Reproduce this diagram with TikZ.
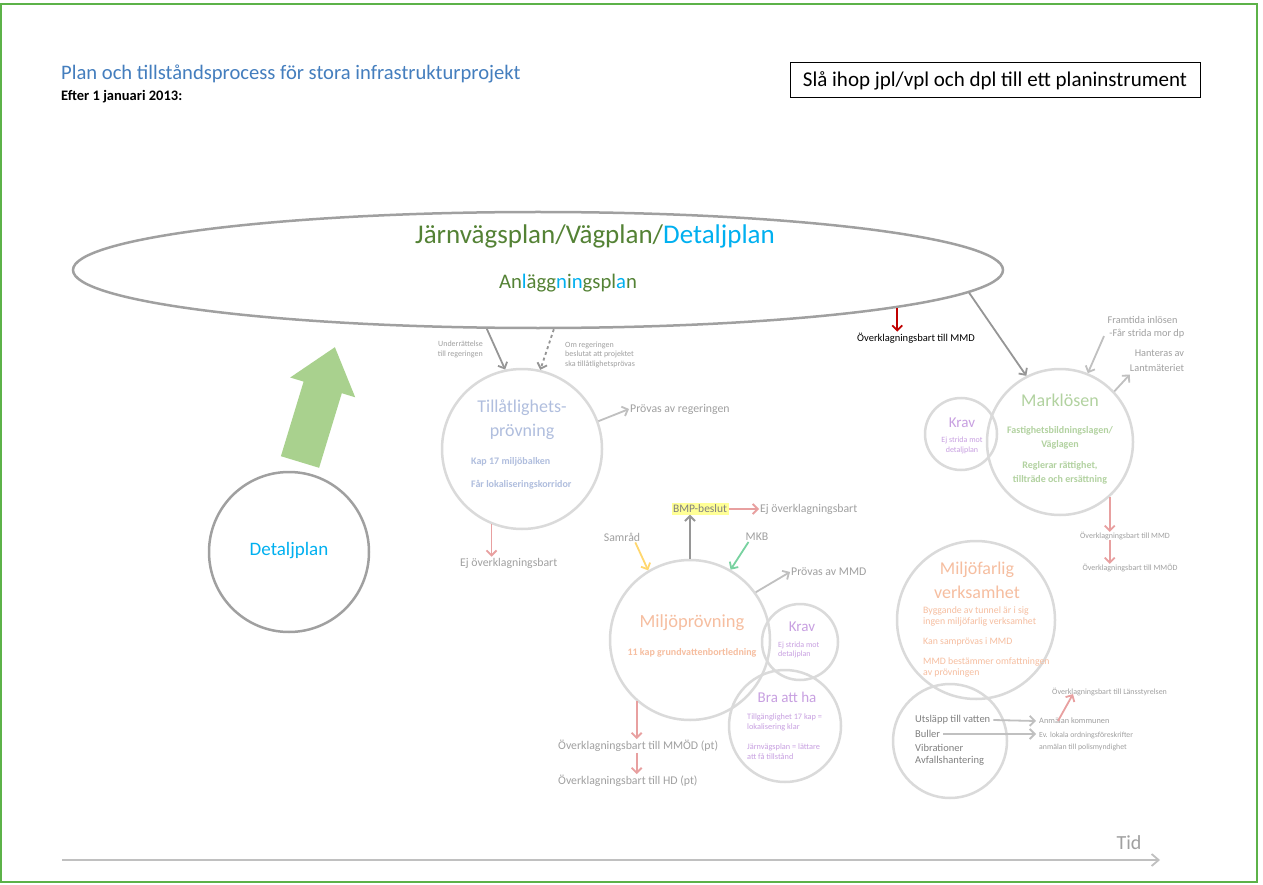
\documentclass[tikz,border=0pt]{standalone}
\usepackage{fontspec}
\setmainfont{Carlito}
\usetikzlibrary{arrows.meta,shapes.geometric}

\newcommand\fsz[2]{\fontsize{#1}{#2}\selectfont}

\definecolor{framegreen}{RGB}{92,178,72}
\definecolor{titleblue}{RGB}{68,126,190}
\definecolor{plangreen}{RGB}{84,130,53}
\definecolor{plancyan}{RGB}{0,176,240}
\definecolor{ringgray}{RGB}{160,160,160}
\definecolor{lightring}{RGB}{218,218,218}
\definecolor{arrowgray}{RGB}{192,192,192}
\definecolor{darkgray}{RGB}{150,150,150}
\definecolor{textgray}{RGB}{160,160,160}
\definecolor{midgray}{RGB}{128,128,128}
\definecolor{pinkred}{RGB}{232,160,160}
\definecolor{darkred}{RGB}{192,0,0}
\definecolor{blockgreen}{RGB}{169,209,142}
\definecolor{paleblue}{RGB}{176,190,222}
\definecolor{peach}{RGB}{246,190,160}
\definecolor{palegreen}{RGB}{178,210,160}
\definecolor{lilac}{RGB}{200,160,225}
\definecolor{hilite}{RGB}{255,255,150}
\definecolor{samgul}{RGB}{255,215,110}
\definecolor{mkbgreen}{RGB}{120,210,160}

\tikzset{
  ring/.style={circle, draw=lightring, line width=2.5, inner sep=0, minimum size=#1},
  darkring/.style={circle, draw=ringgray, line width=2.5, inner sep=0, minimum size=#1},
  tip/.style={-{Straight Barb[length=5,width=10]}},
  grayarrow/.style={tip, draw=arrowgray, line width=1.8},
  planarrow/.style={tip, draw=darkgray, line width=1.8},
  redarrow/.style={tip, draw=pinkred, line width=1.8},
  tiny/.style={font=\fsz{8}{9.5}, text=textgray, inner sep=0},
  small/.style={font=\fsz{11.8}{14}, text=textgray, inner sep=1},
}

\begin{document}
\begin{tikzpicture}[x=1pt,y=-1pt]
\useasboundingbox (0,0) rectangle (1263,885);
\fill[white] (0,0) rectangle (1263,885);
\draw[framegreen, line width=2] (1,4) rectangle (1257,882);

% heading
\node[anchor=west, text=titleblue, font=\fsz{20.6}{24}, inner sep=0] (title) at (61,74)
  {Plan och tillståndsprocess för stora infrastrukturprojekt};
\node[anchor=west, font=\bfseries\fsz{14.5}{17}, inner sep=0] (date) at (61,97)
  {Efter 1 januari 2013:};
\node[draw, line width=1, minimum width=410, minimum height=35, font=\fsz{21}{24}] (merge) at (995,80.5)
  {Slå ihop jpl/vpl och dpl till ett planinstrument};

% the common plan
\node[ellipse, draw=ringgray, line width=2.5, minimum width=930, minimum height=116, inner sep=0] (plan) at (538,270) {};
\node[text=plangreen, font=\fsz{27}{30}, inner sep=0] (planname) at (595,236)
  {Järnvägsplan/Vägplan/\textcolor{plancyan}{Detaljplan}};
\node[text=plangreen, font=\fsz{20.7}{24}, inner sep=0] (anl) at (568,283)
  {An\textcolor{plancyan}{l}ägg\textcolor{plancyan}{n}i\textcolor{plancyan}{n}gspl\textcolor{plancyan}{a}n};

\node[font=\fsz{10.5}{12}, inner sep=1] (mmd0) at (916,338) {Överklagningsbart till MMD};
\draw[tip, draw=darkred, line width=1.8] (plan.-6.4) -- (mmd0.north -| plan.-6.4);

% detaljplan and the big arrow
\node[darkring=160] (dp) at (289,552) {};
\node[text=plancyan, font=\fsz{19}{22}] (dptext) at (289,551) {Detaljplan};
\fill[blockgreen] (280.9,456.2) -- (303.6,381.6) -- (290.2,377.5) -- (334.9,347.2)
  -- (355.2,397.3) -- (341.8,393.2) -- (319.1,467.8) -- cycle;

% tillåtlighetsprövning
\node[ring=160] (tp) at (522,449) {};
\node[text=paleblue, font=\fsz{18}{24}, align=center] (tptitle) at (522,420) {Tillåtlighets-\\prövning};
\node[text=paleblue, font=\bfseries\fsz{10}{12}, anchor=west, inner sep=0] (tp1) at (471,462) {Kap 17 miljöbalken};
\node[text=paleblue, font=\bfseries\fsz{10}{12}, anchor=west, inner sep=0] (tp2) at (471,485) {Får lokaliseringskorridor};
\node[tiny, align=right, anchor=east] (underr) at (483,349.5) {Underrättelse\\till regeringen};
\node[tiny, align=left, anchor=west] (omreg) at (565,354.5) {Om regeringen\\beslutat att projektet\\ska tillåtlighetsprövas};
\draw[planarrow] (plan.-131.5) -- (tp.102);
\draw[planarrow, dashed] (plan.-75.5) -- (tp.77);
\node[small, anchor=west] (provreg) at (629,409) {Prövas av regeringen};
\draw[grayarrow] (tp.20) -- (provreg.west);
\node[small, anchor=west] (ejtp) at (459,563) {Ej överklagningsbart};
\draw[redarrow] (tp.-112) -- (tp.-112 |- ejtp.north);

% miljöprövning
\node[ring=160] (mp) at (690,640) {};
\node[text=peach, font=\fsz{18.5}{22}] (mptitle) at (692,623) {Miljöprövning};
\node[text=peach, font=\bfseries\fsz{10}{12}] (mp1) at (692,653) {11 kap grundvattenbortledning};
\node[fill=hilite, font=\fsz{11.5}{13}, text=midgray, inner sep=1.5] (bmp) at (700,509) {BMP-beslut};
\draw[draw=darkgray, tip, line width=1.8] (mp.north) -- (mp.north |- bmp.south);
\node[small, anchor=west] (ejbmp) at (759,509) {Ej överklagningsbart};
\draw[redarrow] (bmp.east) -- (ejbmp.west);
\node[small] (samrad) at (622,537) {Samråd};
\draw[tip, draw=samgul, line width=1.8] ([xshift=-6]samrad.south east) -- (mp.121);
\node[small] (mkb) at (757,537) {MKB};
\draw[tip, draw=mkbgreen, line width=1.8] ([xshift=4]mkb.south west) -- (mp.60);
\node[small, anchor=west] (provmmd) at (790,572) {Prövas av MMD};
\draw[grayarrow] (mp.36) -- (provmmd.west);

\node[ring=76] (krav1) at (800,642) {};
\node[text=lilac, font=\fsz{15}{17}] (krav1t) at (802,627) {Krav};
\node[tiny, text=lilac, align=left, anchor=west] (krav1s) at (778,650) {Ej strida mot\\detaljplan};

\node[ring=112] (bra) at (785,726) {};
\node[text=lilac, font=\fsz{15}{18}] (brat) at (787,697) {Bra att ha};
\node[tiny, text=lilac, font=\fsz{8.3}{10}, align=left, anchor=west] (bra1) at (747,722) {Tillgänglighet 17 kap =\\lokalisering klar};
\node[tiny, text=lilac, font=\fsz{8.3}{10}, align=left, anchor=west] (bra2) at (747,751.5) {Järnvägsplan = lättare\\att få tillstånd};

\node[small, anchor=west, font=\fsz{11.8}{14}] (mmod) at (557,746) {Överklagningsbart till MMÖD (pt)};
\node[small, anchor=west, font=\fsz{11.8}{14}] (hd) at (557,781) {Överklagningsbart till HD (pt)};
\draw[redarrow] (mp.-131) -- (mp.-131 |- mmod.north);
\draw[redarrow] (mmod.south -| mp.-131) -- (hd.north -| mp.-131);

% marklösen
\node[ring=146] (ml) at (1060,442) {};
\node[text=palegreen, font=\fsz{18}{22}] (mltitle) at (1060,400) {Marklösen};
\node[text=palegreen, font=\bfseries\fsz{10}{14}, align=center] (ml1) at (1060,437.5) {Fastighetsbildningslagen/\\Väglagen};
\node[text=palegreen, font=\bfseries\fsz{10}{14}, align=center] (ml2) at (1060,472.5) {Reglerar rättighet,\\tillträde och ersättning};
\draw[planarrow] (plan.-3) -- (ml.117);

\node[ring=72] (krav2) at (961,434) {};
\node[text=lilac, font=\fsz{15}{17}] (krav2t) at (962,423) {Krav};
\node[tiny, text=lilac, align=center] (krav2s) at (962,445.5) {Ej strida mot\\detaljplan};

\node[font=\fsz{10.3}{13}, text=textgray, align=left, inner sep=0] (framt) at (1146,327) {Framtida inlösen\\\,-Får strida mor dp};
\draw[grayarrow] ([xshift=-42,yshift=2]framt.south) -- (ml.68);
\node[font=\fsz{10.3}{15}, text=textgray, align=right, inner sep=0] (hant) at (1157,360.5) {Hanteras av\\Lantmäteriet};
\draw[grayarrow] (ml.43) -- ([xshift=0,yshift=-3]hant.south west);

\node[tiny, font=\fsz{8}{9}] (mmd2) at (1125,536) {Överklagningsbart till MMD};
\node[tiny, font=\fsz{8}{9}] (mmod2) at (1130,568) {Överklagningsbart till MMÖD};
\draw[redarrow] (ml.-48) -- (ml.-48 |- mmd2.north);
\draw[redarrow] (mmd2.south -| ml.-48) -- (mmod2.north -| ml.-48);

% miljöfarlig verksamhet
\node[ring=158] (mf) at (976,620) {};
\node[text=peach, font=\fsz{18}{24}, align=center] (mftitle) at (977,580) {Miljöfarlig\\verksamhet};
\node[tiny, text=peach, font=\fsz{9.8}{11}, align=left, anchor=west] (mf1) at (923,616.5) {Byggande av tunnel är i sig\\ingen miljöfarlig verksamhet};
\node[tiny, text=peach, font=\fsz{9.8}{11}, anchor=west] (mf2) at (923,642) {Kan samprövas i MMD};
\node[tiny, text=peach, font=\fsz{9.8}{11}, align=left, anchor=west] (mf3) at (923,667) {MMD bestämmer omfattningen\\av prövningen};

\node[ring=114] (ut) at (950,741) {};
\node[font=\fsz{10.5}{13.7}, text=midgray, anchor=west, inner sep=0] (ut1) at (915,720) {Utsläpp till vatten};
\node[font=\fsz{10.5}{13.7}, text=midgray, anchor=west, inner sep=0] (ut2) at (915,734) {Buller};
\node[font=\fsz{10.5}{13.7}, text=midgray, anchor=west, inner sep=0] (ut3) at (915,748) {Vibrationer};
\node[font=\fsz{10.5}{13.7}, text=midgray, anchor=west, inner sep=0] (ut4) at (915,761) {Avfallshantering};

\node[tiny, font=\fsz{8.3}{9}, anchor=west] (anm) at (1039,721) {Anmälan kommunen};
\node[tiny, font=\fsz{7.8}{12}, anchor=west, align=left] (ord) at (1039,741) {Ev. lokala ordningsföreskrifter\\anmälan till polismyndighet};
\node[tiny, font=\fsz{8}{9}, anchor=west] (lans) at (1052,692) {Överklagningsbart till Länsstyrelsen};
\draw[grayarrow] ([xshift=3]ut1.east) -- ([xshift=-3]anm.west);
\draw[grayarrow] ([xshift=3]ut2.east) -- ([xshift=-3]anm.west |- ut2.east);
\draw[redarrow] ([xshift=19,yshift=-3]anm.north west) -- ([xshift=21,yshift=2]lans.south west);

% time axis
\coordinate (t0) at (62,860);
\coordinate (t1) at (1160,860);
\draw[-{Straight Barb[length=7,width=12]}, draw=arrowgray, line width=1.8] (t0) -- (t1);
\node[font=\fsz{20}{22}, text=textgray] (tid) at (1129,843) {Tid};
\end{tikzpicture}
\end{document}
